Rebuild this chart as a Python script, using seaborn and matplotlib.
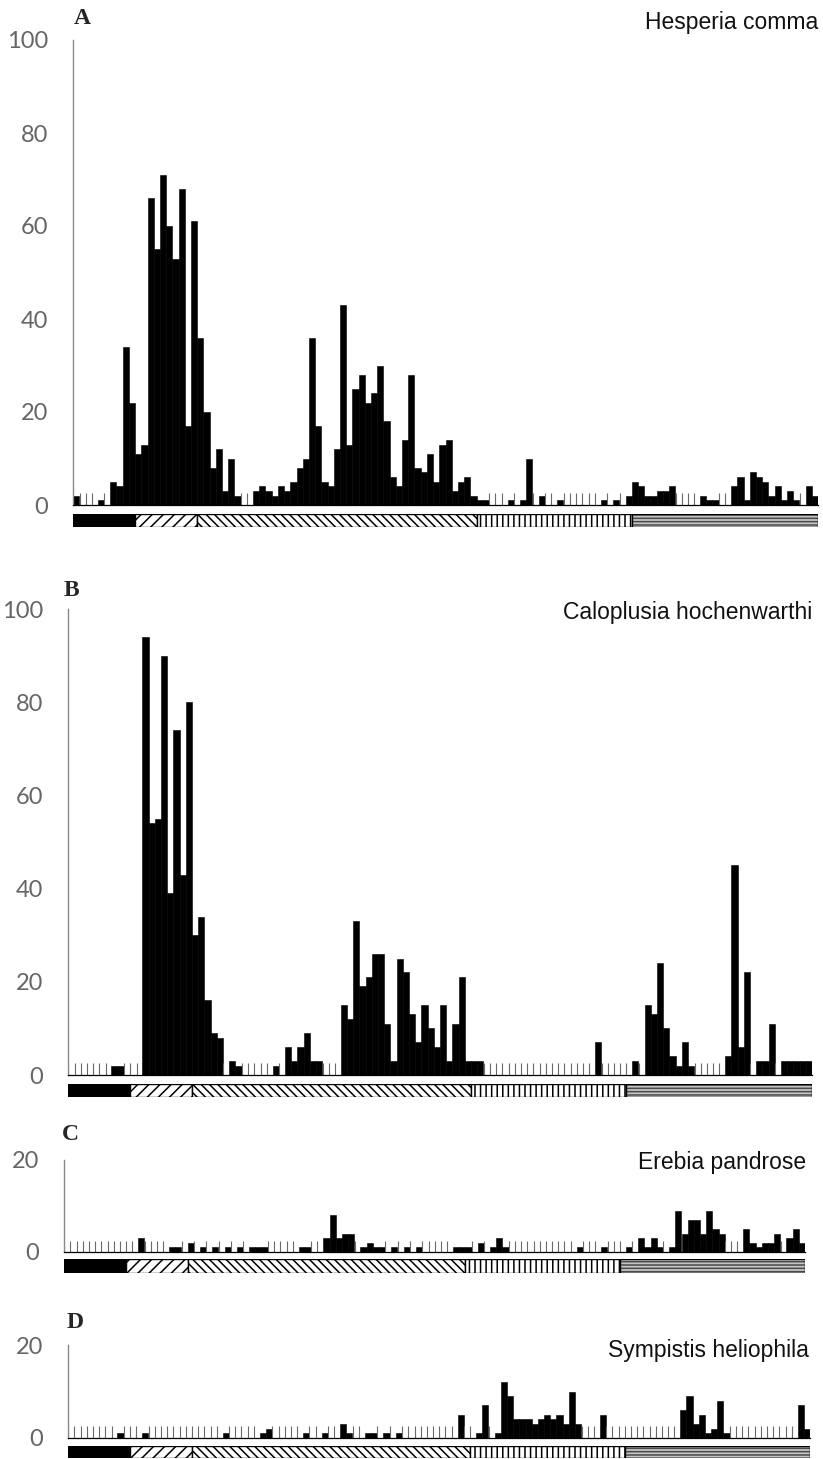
import numpy as np
import pandas as pd
import matplotlib
matplotlib.use("Agg")
import matplotlib.pyplot as plt
import seaborn as sns

# ---------------- data ----------------
weeks = list(range(120))

hesperia = [2, 0, 0, 0, 1, 0, 5, 4, 34, 22,
            11, 13, 66, 55, 71, 60, 53, 68, 17, 61,
            36, 20, 8, 12, 3, 10, 2, 0, 0, 3,
            4, 3, 2, 4, 3, 5, 8, 10, 36, 17,
            5, 4, 12, 43, 13, 25, 28, 22, 24, 30,
            18, 6, 4, 14, 28, 8, 7, 11, 5, 13,
            14, 3, 5, 6, 2, 1, 1, 0, 0, 0,
            1, 0, 1, 10, 0, 2, 0, 0, 1, 0,
            0, 0, 0, 0, 0, 1, 0, 1, 0, 2,
            5, 4, 2, 2, 3, 3, 4, 0, 0, 0,
            0, 2, 1, 1, 0, 0, 4, 6, 1, 7,
            6, 5, 2, 4, 1, 3, 1, 0, 4, 2]

caloplusia = [0, 0, 0, 0, 0, 0, 0, 2, 2, 0,
              0, 0, 94, 54, 55, 90, 39, 74, 43, 80,
              30, 34, 16, 9, 8, 0, 3, 2, 0, 0,
              0, 0, 0, 2, 0, 6, 3, 6, 9, 3,
              3, 0, 0, 0, 15, 12, 33, 19, 21, 26,
              26, 11, 3, 25, 22, 13, 7, 15, 10, 6,
              15, 3, 11, 21, 3, 3, 3, 0, 0, 0,
              0, 0, 0, 0, 0, 0, 0, 0, 0, 0,
              0, 0, 0, 0, 0, 7, 0, 0, 0, 0,
              0, 3, 0, 15, 13, 24, 10, 4, 2, 7,
              2, 0, 0, 0, 0, 0, 4, 45, 6, 22,
              0, 3, 3, 11, 0, 3, 3, 3, 3, 3]

erebia = [0, 0, 0, 0, 0, 0, 0, 0, 0, 0,
          0, 0, 3, 0, 0, 0, 0, 1, 1, 0,
          2, 0, 1, 0, 1, 0, 1, 0, 1, 0,
          1, 1, 1, 0, 0, 0, 0, 0, 1, 1,
          0, 0, 3, 8, 3, 4, 4, 0, 1, 2,
          1, 1, 0, 1, 0, 1, 0, 1, 0, 0,
          0, 0, 0, 1, 1, 1, 0, 2, 0, 1,
          3, 1, 0, 0, 0, 0, 0, 0, 0, 0,
          0, 0, 0, 1, 0, 0, 0, 1, 0, 0,
          0, 1, 0, 3, 1, 3, 1, 0, 1, 9,
          4, 7, 7, 4, 9, 5, 4, 0, 0, 0,
          5, 2, 1, 2, 2, 4, 0, 3, 5, 2]

sympistis = [0, 0, 0, 0, 0, 0, 0, 0, 1, 0,
             0, 0, 1, 0, 0, 0, 0, 0, 0, 0,
             0, 0, 0, 0, 0, 1, 0, 0, 0, 0,
             0, 1, 2, 0, 0, 0, 0, 0, 1, 0,
             0, 1, 0, 0, 3, 1, 0, 0, 1, 1,
             0, 1, 0, 1, 0, 0, 0, 0, 0, 0,
             0, 0, 0, 5, 0, 0, 1, 7, 0, 1,
             12, 9, 4, 4, 4, 3, 4, 5, 4, 5,
             3, 10, 3, 0, 0, 0, 5, 0, 0, 0,
             0, 0, 0, 0, 0, 0, 0, 0, 0, 6,
             9, 3, 5, 1, 2, 8, 1, 0, 0, 0,
             0, 0, 0, 0, 0, 0, 0, 0, 7, 2]

species = ["Hesperia comma", "Caloplusia hochenwarthi",
           "Erebia pandrose", "Sympistis heliophila"]
panel_letters = ["A", "B", "C", "D"]

habitat_kinds = ["solid", "forward", "backward", "vertical", "horizontal"]
habitat_counts = [10, 10, 45, 25, 30]

ticks_big = [0, 20, 40, 60, 80, 100]
ticks_small = [0, 20]

# ---------------- style ----------------
sns.set_theme(style="white")
plt.rcParams["font.family"] = ["Liberation Sans", "DejaVu Sans"]
plt.rcParams["hatch.linewidth"] = 1.1

W, H = 823, 1459
fig = plt.figure(figsize=(W / 100, H / 100), dpi=100)


def add_ax(x0, x1, ytop, ybot):
    return fig.add_axes([x0 / W, 1 - ybot / H, (x1 - x0) / W, (ybot - ytop) / H])


layout = [
    dict(vals=hesperia, ymax=100, ticks=ticks_big, x0=73, x1=818, ytop=40, ybase=505,
         htop=514, hbot=527, lx=74, ly=19, tx=818, ty=22),
    dict(vals=caloplusia, ymax=100, ticks=ticks_big, x0=68, x1=812, ytop=609, ybase=1075,
         htop=1084, hbot=1097, lx=64, ly=590, tx=812, ty=612),
    dict(vals=erebia, ymax=20, ticks=ticks_small, x0=64, x1=805, ytop=1160, ybase=1252,
         htop=1259, hbot=1273, lx=62, ly=1135, tx=806, ty=1163),
    dict(vals=sympistis, ymax=20, ticks=ticks_small, x0=68, x1=810, ytop=1345, ybase=1438,
         htop=1446, hbot=1458, lx=67, ly=1322, tx=809, ty=1351),
]

hatch_map = {"solid": None, "forward": "///", "backward": "\\\\\\\\",
             "vertical": "|||", "horizontal": "-----"}
face_map = {"solid": "black", "forward": "white", "backward": "white",
            "vertical": "white", "horizontal": "#c4c4c4"}
hatch_col = {"solid": "black", "forward": "black", "backward": "black",
             "vertical": "black", "horizontal": "#4a4a4a"}

for i, p in enumerate(layout):
    ax = add_ax(p["x0"], p["x1"], p["ytop"], p["ybase"])
    df = pd.DataFrame({"week": weeks, "count": p["vals"]})
    sns.barplot(data=df, x="week", y="count", color="black", saturation=1,
                width=1.0, edgecolor="black", linewidth=0.4, errorbar=None, ax=ax)
    # small marks for weeks without captures
    zero_w = df.loc[df["count"] == 0, "week"].to_numpy()
    ax.vlines(zero_w - 0.45, 0, 2.5, color="#6a6a6a", lw=0.8)
    ax.set_xlim(-0.5, len(weeks) - 0.5)
    ax.set_ylim(0, p["ymax"])
    ax.set_xlabel("")
    ax.set_ylabel("")
    ax.set_xticks([])
    ax.set_yticks(p["ticks"])
    ax.set_yticklabels([str(t) for t in p["ticks"]],
                       fontdict=dict(family=["Lato", "DejaVu Sans"],
                                     size=17, color="#666666"))
    ax.tick_params(axis="y", direction="in", length=8, width=0.9, colors="#7a7a7a",
                   pad=18, labelcolor="#666666")
    for s in ["top", "right"]:
        ax.spines[s].set_visible(False)
    ax.spines["left"].set_color("#8a8a8a")
    ax.spines["left"].set_linewidth(1.0)
    ax.spines["bottom"].set_color("black")
    ax.spines["bottom"].set_linewidth(0.9)
    ax.set_facecolor("none")

    # habitat strip
    hx = add_ax(p["x0"], p["x1"], p["htop"], p["hbot"])
    left = 0
    for kind, cnt in zip(habitat_kinds, habitat_counts):
        hx.bar(left + cnt / 2 - 0.5, 1, width=cnt, bottom=0, color=face_map[kind],
               hatch=hatch_map[kind], edgecolor=hatch_col[kind], linewidth=0)
        hx.bar(left + cnt / 2 - 0.5, 1, width=cnt, bottom=0, fill=False,
               edgecolor="black", linewidth=1.0)
        left += cnt
    hx.set_xlim(-0.5, len(weeks) - 0.5)
    hx.set_ylim(0, 1)
    hx.axis("off")

    fig.text(p["lx"] / W, 1 - p["ly"] / H, panel_letters[i], ha="left", va="center",
             fontsize=17, fontweight="bold", family=["Liberation Serif", "DejaVu Serif"])
    fig.text(p["tx"] / W, 1 - p["ty"] / H, species[i], ha="right", va="center",
             fontsize=16.5, family=["Liberation Sans", "DejaVu Sans"], color="#111111")

fig.savefig("out.png", dpi=100, facecolor="white")
